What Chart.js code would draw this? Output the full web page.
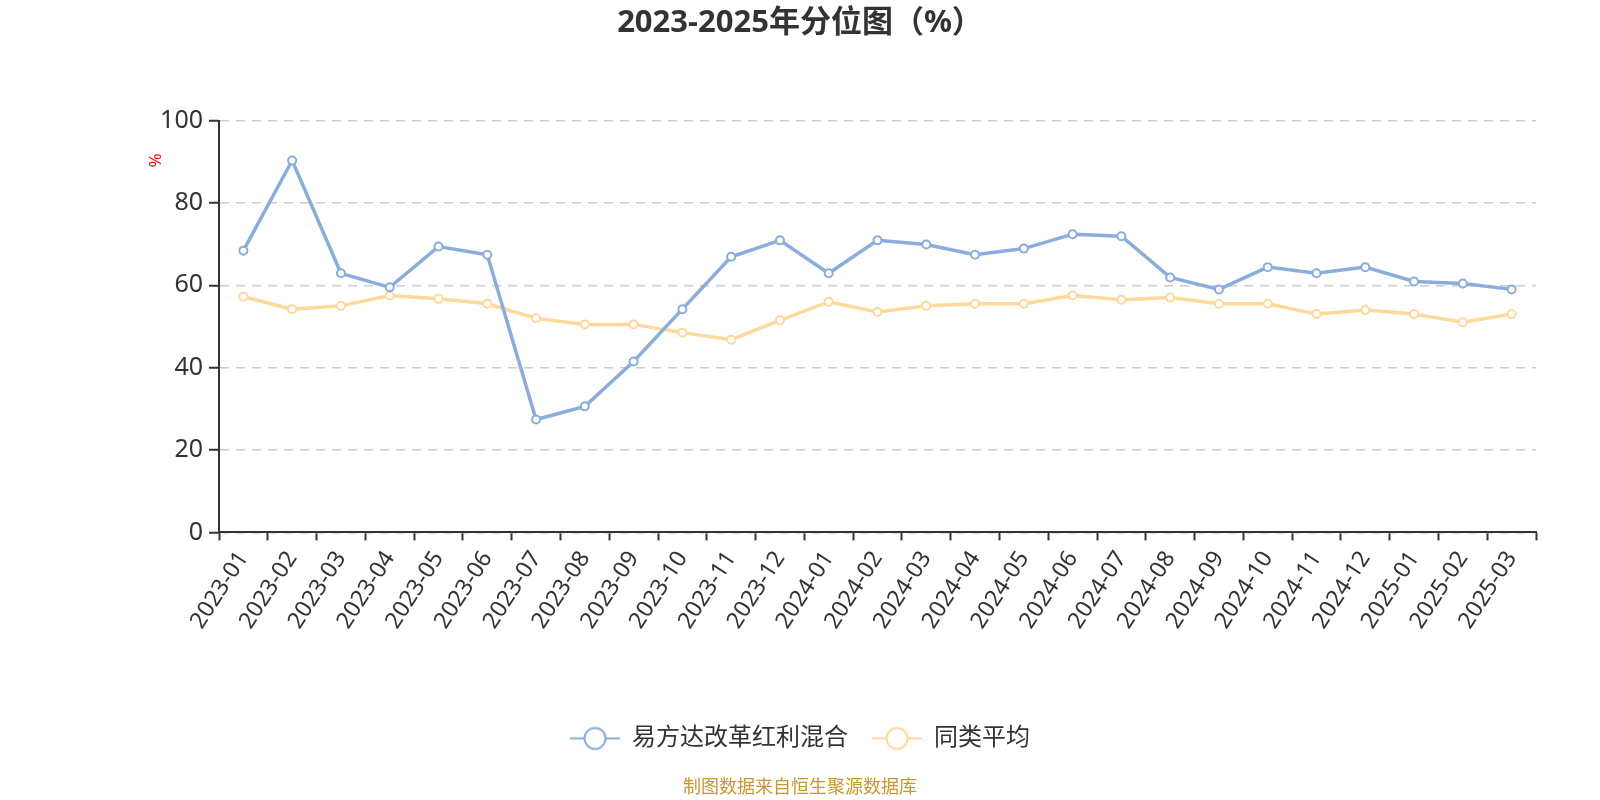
<!DOCTYPE html>
<html>
<head>
<meta charset="utf-8">
<script src="https://cdn.jsdelivr.net/npm/chart.js@4"></script>
<style>
  html, body { margin: 0; padding: 0; background: #fff; }
</style>
</head>
<body>
<canvas id="fundChart" width="1600" height="800"></canvas>
<script>
// 2023-2025 quantile chart (%)

let months = ["2023-01", "2023-02", "2023-03", "2023-04", "2023-05", "2023-06", "2023-07", "2023-08", "2023-09",
    "2023-10", "2023-11", "2023-12", "2024-01", "2024-02", "2024-03", "2024-04", "2024-05", "2024-06",
    "2024-07", "2024-08", "2024-09", "2024-10", "2024-11", "2024-12", "2025-01", "2025-02", "2025-03"];

let fundValues = [68.4, 90.3, 62.9, 59.5, 69.4, 67.4, 27.4, 30.6, 41.5,
    54.2, 66.9, 70.9, 62.9, 70.9, 69.9, 67.4, 68.9, 72.4,
    71.9, 61.9, 59.0, 64.4, 62.9, 64.4, 60.9, 60.4, 59.0];

let peerValues = [57.2, 54.2, 55.0, 57.5, 56.7, 55.5, 52.0, 50.5, 50.5,
    48.5, 46.8, 51.5, 56.0, 53.5, 55.0, 55.5, 55.5, 57.5,
    56.5, 57.0, 55.5, 55.5, 53.0, 54.0, 53.0, 51.0, 53.0];

let yTicks = [0, 20, 40, 60, 80, 100];

let blue = '#8aaddb';
let yellow = '#fed99b';
let fontFamily = "'Noto Sans', 'Noto Sans CJK SC', sans-serif";

Chart.defaults.font.family = fontFamily;

// legend symbol: short line with an open circle
function legendSymbol(color) {
    let c = document.createElement('canvas');
    c.width = 50;
    c.height = 26;
    let g = c.getContext('2d');
    g.strokeStyle = color;
    g.lineWidth = 2;
    g.beginPath();
    g.moveTo(0, 13);
    g.lineTo(50, 13);
    g.stroke();
    g.beginPath();
    g.arc(25, 13, 10.5, 0, Math.PI * 2);
    g.fillStyle = '#fff';
    g.fill();
    g.stroke();
    return c;
}
let symbols = [legendSymbol(blue), legendSymbol(yellow)];

// red "%" unit next to the y axis
let axisUnit = {
    id: 'axisUnit',
    afterDraw(chart) {
        let ctx = chart.ctx;
        let area = chart.chartArea;
        ctx.save();
        ctx.translate(area.left - 63, area.top + 40);
        ctx.rotate(-Math.PI / 2);
        ctx.fillStyle = '#ff0000';
        ctx.font = '17px ' + fontFamily;
        ctx.textAlign = 'center';
        ctx.textBaseline = 'middle';
        ctx.fillText('%', 0, 0);
        ctx.restore();
    }
};

let lineStyle = function (color) {
    return {
        borderColor: color,
        backgroundColor: color,
        borderWidth: 3.5,
        pointRadius: 4,
        pointHoverRadius: 4,
        pointBorderWidth: 2,
        pointBackgroundColor: '#fff',
        pointBorderColor: color,
        tension: 0,
        fill: false
    };
};

let config = {
    type: 'line',
    data: {
        labels: months,
        datasets: [
            Object.assign({ label: '易方达改革红利混合', data: fundValues }, lineStyle(blue)),
            Object.assign({ label: '同类平均', data: peerValues }, lineStyle(yellow))
        ]
    },
    options: {
        responsive: false,
        animation: false,
        devicePixelRatio: 1,
        layout: { padding: 0 },
        plugins: {
            title: {
                display: true,
                text: '2023-2025年分位图（%）',
                color: '#333',
                font: { size: 31, weight: 'bold' },
                padding: { top: 5, bottom: 78.3 }
            },
            subtitle: {
                display: true,
                position: 'bottom',
                text: '制图数据来自恒生聚源数据库',
                color: '#c89632',
                font: { size: 18 },
                padding: { top: 17, bottom: 1 }
            },
            legend: {
                position: 'bottom',
                labels: {
                    usePointStyle: true,
                    pointStyleWidth: 50,
                    padding: 24,
                    color: '#333',
                    font: { size: 24 },
                    generateLabels: function (chart) {
                        let items = Chart.defaults.plugins.legend.labels.generateLabels(chart);
                        items.forEach(function (item, i) { item.pointStyle = symbols[i]; });
                        return items;
                    }
                }
            },
            tooltip: { enabled: false }
        },
        scales: {
            x: {
                offset: true,
                grid: { offset: true, drawOnChartArea: false, tickLength: 8, tickColor: '#333', tickWidth: 2 },
                border: { color: '#333', width: 2 },
                ticks: { color: '#333', font: { size: 23 }, minRotation: 57, maxRotation: 57, autoSkip: false, padding: 6 },
                afterFit: function (s) { s.height = 170; }
            },
            y: {
                min: 0,
                max: 100,
                afterBuildTicks: function (s) { s.ticks = yTicks.map(function (v) { return { value: v }; }); },
                ticks: { color: '#333', font: { size: 25 }, padding: 6 },
                grid: { color: '#cccccc', lineWidth: 1.5, tickColor: '#333', tickWidth: 2, tickLength: 10 },
                border: { color: '#333', width: 2, dash: [9, 7] },
                afterFit: function (s) { s.width = 219; }
            },
            // empty right-hand box so the chart area ends short of the canvas edge
            yRight: {
                type: 'linear',
                position: 'right',
                grid: { display: false },
                ticks: { display: false },
                border: { display: false },
                afterFit: function (s) { s.width = 64; }
            }
        }
    },
    plugins: [axisUnit]
};

let ctx = document.getElementById('fundChart');
let fundChart = new Chart(ctx, config);
</script>
</body>
</html>
